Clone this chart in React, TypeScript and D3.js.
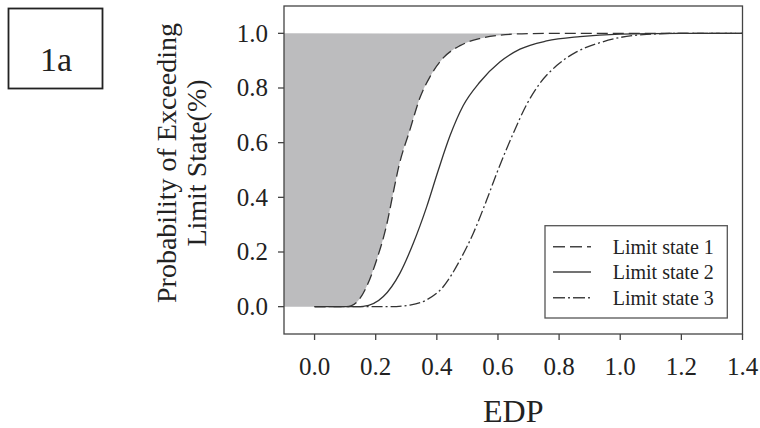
import React from "react";
import * as d3 from "d3";

const xTicks = [0, 0.2, 0.4, 0.6, 0.8, 1.0, 1.2, 1.4];
const yTicks = [0, 0.2, 0.4, 0.6, 0.8, 1.0];

// [EDP, probability]
const limitState1: [number, number][] = [
  [0, 0], [0.1, 0], [0.121, 0.004], [0.149, 0.031], [0.17, 0.073], [0.203, 0.171],
  [0.236, 0.3], [0.257, 0.415], [0.276, 0.515], [0.312, 0.647], [0.345, 0.765],
  [0.377, 0.84], [0.421, 0.91], [0.476, 0.955], [0.541, 0.981], [0.606, 0.993],
  [0.7, 0.999], [0.8, 1], [1.4, 1],
];
const limitState2: [number, number][] = [
  [0, 0], [0.14, 0], [0.159, 0.001], [0.225, 0.037], [0.279, 0.122], [0.323, 0.232],
  [0.367, 0.366], [0.405, 0.5], [0.443, 0.625], [0.486, 0.735], [0.541, 0.822],
  [0.606, 0.895], [0.672, 0.942], [0.759, 0.972], [0.868, 0.988], [1.0, 0.997],
  [1.2, 1], [1.4, 1],
];
const limitState3: [number, number][] = [
  [0, 0], [0.25, 0], [0.312, 0.006], [0.367, 0.025], [0.421, 0.073], [0.476, 0.171],
  [0.519, 0.268], [0.563, 0.39], [0.596, 0.488], [0.65, 0.634], [0.694, 0.74],
  [0.737, 0.817], [0.792, 0.882], [0.857, 0.932], [0.934, 0.966], [1.0, 0.985],
  [1.086, 0.996], [1.2, 1], [1.4, 1],
];

const seriesNames = ["Limit state 1", "Limit state 2", "Limit state 3"];
const seriesData = [limitState1, limitState2, limitState3];
const seriesDash = ["11,5", "none", "11,3,2,3"];
const legendDash = ["12,5", "none", "12,3,2,3"];

const W = 760;
const H = 428;
const left = 284;
const right = 742.5;
const top = 6;
const bottom = 334;
const FONT = "'Liberation Serif', 'Times New Roman', serif";
const TEXT = "#222";
const LINE = "#333";

export default function App() {
  const x = d3.scaleLinear().domain([-0.1, 1.4]).range([left, right]);
  const y = d3.scaleLinear().domain([-0.1, 1.1]).range([bottom, top]);
  const line = d3
    .line<[number, number]>()
    .x((d) => x(d[0]))
    .y((d) => y(d[1]))
    .curve(d3.curveMonotoneX);

  const shadePts: [number, number][] = [
    [-0.1, 0],
    ...limitState1.filter((d) => d[0] <= 0.7),
    [-0.1, 1],
  ];
  const shade = d3
    .line<[number, number]>()
    .x((d) => x(d[0]))
    .y((d) => y(d[1]))
    .curve(d3.curveMonotoneX);

  return (
    <svg
      width={W}
      height={H}
      style={{ position: "absolute", left: 0, top: 0, background: "#fff" }}
      fontFamily={FONT}
    >
      {/* 1a box */}
      <rect x={8.5} y={8.5} width={94} height={80} fill="none" stroke="#222" strokeWidth={1.8} />
      <text x={56} y={71} fontSize={34} textAnchor="middle" fill={TEXT}>
        1a
      </text>

      {/* shaded region */}
      <path d={(shade(shadePts) || "") + "Z"} fill="#bcbcbe" stroke="none" />

      {/* curves */}
      {seriesData.map((s, i) => (
        <path
          key={i}
          d={line(s) || ""}
          fill="none"
          stroke={LINE}
          strokeWidth={1.3}
          strokeDasharray={seriesDash[i]}
        />
      ))}

      {/* frame */}
      <rect
        x={left}
        y={top}
        width={right - left}
        height={bottom - top}
        fill="none"
        stroke="#444"
        strokeWidth={1.3}
      />

      {/* x ticks */}
      {xTicks.map((t) => (
        <g key={"x" + t}>
          <line x1={x(t)} x2={x(t)} y1={bottom} y2={bottom + 6} stroke="#444" strokeWidth={1.3} />
          <text x={x(t)} y={375} fontSize={25} textAnchor="middle" fill={TEXT}>
            {d3.format(".1f")(t)}
          </text>
        </g>
      ))}
      {/* y ticks */}
      {yTicks.map((t) => (
        <g key={"y" + t}>
          <line x1={left - 6} x2={left} y1={y(t)} y2={y(t)} stroke="#444" strokeWidth={1.3} />
          <text x={268} y={y(t) + 8.4} fontSize={25} textAnchor="end" fill={TEXT}>
            {d3.format(".1f")(t)}
          </text>
        </g>
      ))}

      {/* axis titles */}
      <text x={(left + right) / 2} y={421.5} fontSize={32} textAnchor="middle" fill={TEXT}>
        EDP
      </text>
      <g transform="translate(0,163) rotate(-90)">
        <text x={0} y={176} fontSize={28} textAnchor="middle" fill={TEXT}>
          Probability of Exceeding
        </text>
        <text x={0} y={206} fontSize={28} textAnchor="middle" fill={TEXT}>
          Limit State(%)
        </text>
      </g>

      {/* legend */}
      <rect x={545} y={225.7} width={182.3} height={92.3} fill="#fff" stroke="#555" strokeWidth={1.3} />
      {seriesNames.map((n, i) => {
        const ly = [246.7, 272, 297.7][i];
        return (
          <g key={n}>
            <line
              x1={553}
              x2={591}
              y1={ly}
              y2={ly}
              stroke="#444"
              strokeWidth={1.4}
              strokeDasharray={legendDash[i]}
            />
            <text x={612.7} y={ly + 7.3} fontSize={20} fill={TEXT}>
              {n}
            </text>
          </g>
        );
      })}
    </svg>
  );
}
